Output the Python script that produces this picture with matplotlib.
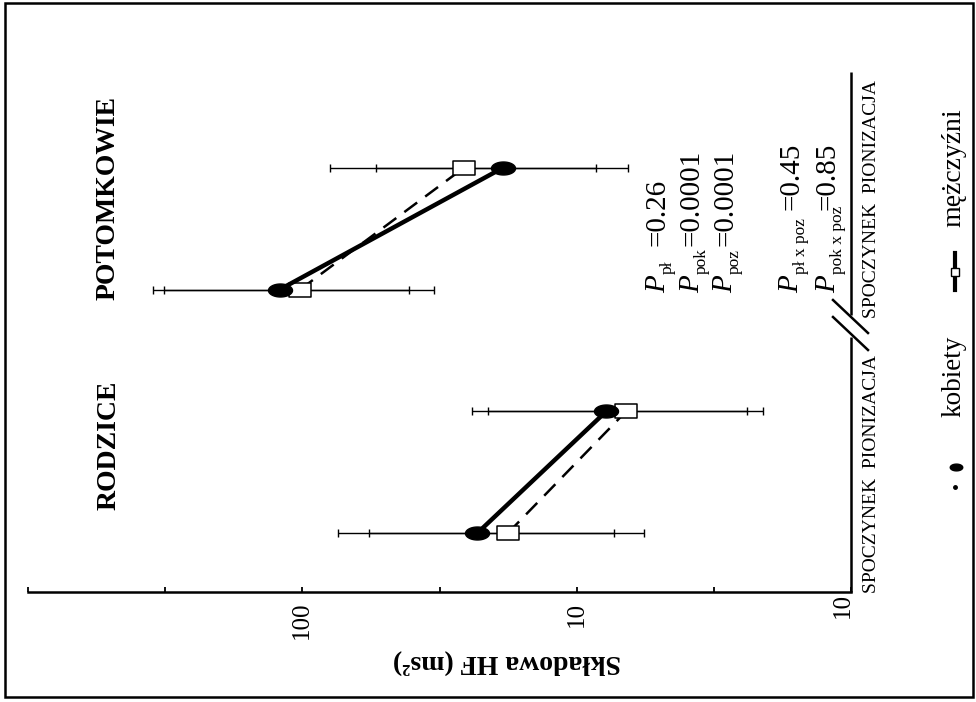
import matplotlib
matplotlib.use('Agg')
import matplotlib.pyplot as plt
import numpy as np
from matplotlib.path import Path
from matplotlib.lines import Line2D
from matplotlib.patches import Rectangle
from matplotlib.ticker import NullLocator

plt.rcParams['font.family'] = ['Liberation Serif', 'DejaVu Serif']

# ---------------- data ----------------
groups = ['RODZICE', 'POTOMKOWIE']
conditions = ['SPOCZYNEK', 'PIONIZACJA']
# order: RODZICE-SPOCZYNEK, RODZICE-PIONIZACJA, POTOMKOWIE-SPOCZYNEK, POTOMKOWIE-PIONIZACJA
women_mean = [23.0, 7.8, 121.0, 18.6]
women_low = [7.3, 2.4, 41.0, 6.5]
women_high = [74.0, 24.0, 350.0, 54.0]
men_mean = [17.8, 6.6, 102.0, 25.8]
men_low = [5.7, 2.1, 33.0, 8.5]
men_high = [57.0, 21.0, 320.0, 79.0]

tick_values = [1000, 316.2, 100, 31.62, 10, 3.162, 1]
tick_labels = ['', '', '100', '', '10', '', '']
end_label = '10'

p_subs = ['pł', 'pok', 'poz', 'pł x poz', 'pok x poz']
p_vals = ['0.26', '0.0001', '0.0001', '0.45', '0.85']

ylabel = 'Składowa HF (ms²)'
cat_text = 'SPOCZYNEK  PIONIZACJA'
legend_labels = ['kobiety', 'mężczyźni']

# ---------------- figure ----------------
W, H = 976, 702
fig = plt.figure(figsize=(9.76, 7.02), dpi=100)


def fx(px):
    return px / W


def fy(py):
    return 1 - py / H


ax = fig.add_axes([fx(28), fy(592), fx(851) - fx(28), fy(72) - fy(592)])
ax.set_xscale('log')
ax.set_xlim(1000, 1)
unit = 121.7
ax.set_ylim(0, 520 / unit)
pos = np.arange(4) + 59 / unit

t = np.linspace(0, 2 * np.pi, 80)
ellipse_path = Path(np.c_[np.cos(t), 0.54 * np.sin(t)], closed=True)
rect_path = Path([(-1, -0.6), (1, -0.6), (1, 0.6), (-1, 0.6), (-1, -0.6)], closed=True)

wm = np.array(women_mean); wl = np.array(women_low); wh = np.array(women_high)
mm = np.array(men_mean); ml = np.array(men_low); mh = np.array(men_high)

ax.errorbar(wm, pos, xerr=[wm - wl, wh - wm], fmt='none', ecolor='black',
            elinewidth=1.0, capsize=2.8, capthick=1.0, zorder=2)
ax.errorbar(mm, pos, xerr=[mm - ml, mh - mm], fmt='none', ecolor='black',
            elinewidth=1.0, capsize=2.8, capthick=1.0, zorder=2)

for g in range(len(groups)):
    idx = [2 * g, 2 * g + 1]
    ax.plot(mm[idx], pos[idx], ls=(0, (6.4, 4)), lw=1.8, color='black',
            marker=rect_path, ms=16.5, mfc='white', mec='black', mew=1.1, zorder=3)
    ax.plot(wm[idx], pos[idx], ls='-', lw=3.2, color='black',
            marker=ellipse_path, ms=17.3, mfc='black', mec='black', zorder=4)

# axes styling
for s in ['top', 'left', 'right']:
    ax.spines[s].set_visible(False)
ax.spines['bottom'].set_linewidth(1.8)
ax.set_yticks([])
ax.xaxis.set_minor_locator(NullLocator())
ax.set_xticks(tick_values)
ax.set_xticklabels(tick_labels, rotation=90, fontsize=18)
ax.tick_params(axis='x', direction='in', length=3.6, width=1.3, pad=7)
ax.annotate(end_label, xy=(1, 0), xycoords=('data', 'axes fraction'),
            xytext=(-8, -1), textcoords='offset pixels', rotation=90,
            ha='center', va='top', fontsize=18, annotation_clip=False)

# right (category) axis with break
yb1 = (592 - 337) / unit
yb2 = (592 - 315) / unit
ytop = ax.get_ylim()[1]
ax.plot([1, 1], [0, yb1], color='black', lw=1.8, clip_on=False, solid_capstyle='butt')
ax.plot([1, 1], [yb2, ytop], color='black', lw=1.8, clip_on=False, solid_capstyle='butt')
fig.add_artist(Line2D([fx(833), fx(868)], [fy(300), fy(333)], color='black', lw=1.8,
                      transform=fig.transFigure))
fig.add_artist(Line2D([fx(833), fx(868)], [fy(317), fy(350)], color='black', lw=1.8,
                      transform=fig.transFigure))

# texts
fig.text(fx(109), fy(510), groups[0], rotation=90, ha='center', va='bottom',
         fontsize=20, fontweight='bold')
fig.text(fx(108), fy(300), groups[1], rotation=90, ha='center', va='bottom',
         fontsize=20, fontweight='bold')
fig.text(fx(507), fy(661), ylabel, rotation=180, ha='center', va='center',
         fontsize=20, fontweight='bold')
fig.text(fx(872), fy(593), cat_text, rotation=90, ha='center', va='bottom', fontsize=14)
fig.text(fx(872), fy(318), cat_text, rotation=90, ha='center', va='bottom', fontsize=14)

p_base_x = [665, 699, 732, 798, 835]
p_start_y = [293, 293, 293, 293, 293]
eq_start_y = [246, 246, 246, 210, 210]
for bx, y0, ey, sub, val in zip(p_base_x, p_start_y, eq_start_y, p_subs, p_vals):
    fig.text(fx(bx), fy(y0), 'P', rotation=90, style='italic',
             rotation_mode='anchor', ha='left', va='baseline', fontsize=21)
    fig.text(fx(bx + 7), fy(y0 - 19), sub, rotation=90,
             rotation_mode='anchor', ha='left', va='baseline', fontsize=12.5)
    fig.text(fx(bx), fy(ey), '=' + val, rotation=90,
             rotation_mode='anchor', ha='left', va='baseline', fontsize=21)

# legend (drawn manually, rotated)
fig.add_artist(Line2D([fx(955)], [fy(487)], marker='o', ms=2.5, color='black', lw=0,
                      transform=fig.transFigure))
fig.add_artist(Line2D([fx(956)], [fy(467)], marker=ellipse_path, ms=9, mfc='black',
                      mec='black', lw=0, transform=fig.transFigure))
fig.text(fx(960), fy(417), legend_labels[0], rotation=90, rotation_mode='anchor',
         ha='left', va='baseline', fontsize=19.5)
fig.add_artist(Line2D([fx(955), fx(955)], [fy(290), fy(253)], color='black', lw=3,
                      transform=fig.transFigure))
fig.add_artist(Line2D([fx(955)], [fy(272)], marker='s', ms=6, mfc='white', mec='black',
                      mew=1.0, lw=0, transform=fig.transFigure))
fig.text(fx(960), fy(227), legend_labels[1], rotation=90, rotation_mode='anchor',
         ha='left', va='baseline', fontsize=20)

# outer frame
fig.add_artist(Rectangle((fx(5), fy(697)), fx(973) - fx(5), fy(3) - fy(697),
                         transform=fig.transFigure, fill=False, lw=1.8, ec='black'))

fig.savefig('out.png', dpi=100)
